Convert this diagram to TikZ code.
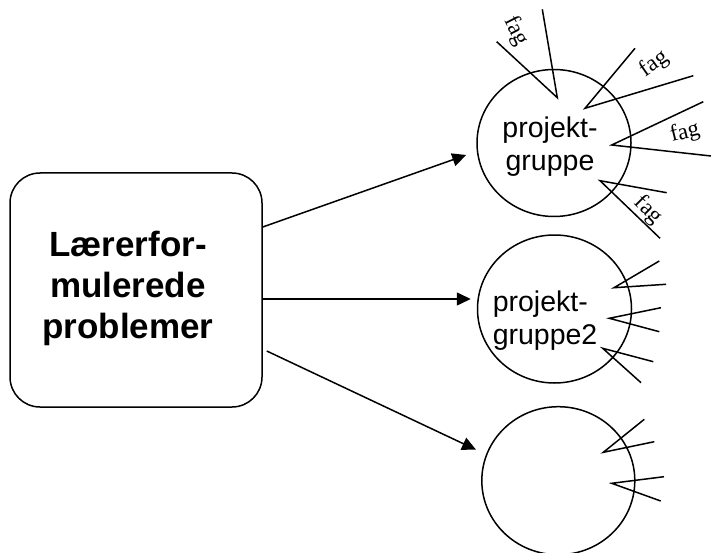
\documentclass[tikz,border=0pt]{standalone}
\usepackage{fontspec}
\setmainfont{Liberation Serif}
\setsansfont{Liberation Sans}
\usetikzlibrary{arrows.meta,shapes.geometric}
\begin{document}
\begin{tikzpicture}[x=1pt,y=-1pt,line width=1.5pt,
  grp/.style={ellipse, draw, inner sep=0pt, minimum width=154pt, minimum height=147pt},
  conn/.style={-{Triangle[length=14pt,width=13pt]}},
  spike/.style={line join=miter},
  fag/.style={font=\fontsize{23}{26}\selectfont, inner sep=0pt},
  boxtext/.style={font=\fontsize{35}{41}\selectfont\sffamily\bfseries, align=center, inner sep=0pt},
  grptext/.style={font=\fontsize{28.5}{33}\selectfont\sffamily, inner sep=0pt}]
\useasboundingbox (0,0) rectangle (711,553);
% main box
\node[draw, rounded corners=30pt, inner sep=0pt, minimum width=252pt, minimum height=234pt] (box) at (136,290) {};
\node[boxtext] (boxtxt) at (128,288) {Lærerfor-\\mulerede\\problemer};
% groups
\node[grp] (c1) at (554,143) {};
\node[grp, minimum height=148pt] (c2) at (554.5,309) {};
\node[grp, minimum width=153pt, minimum height=148pt] (c3) at (558.3,480.7) {};
\node[grptext, align=center] (t1) at (550,146.6) {projekt-\\gruppe};
\node[grptext, align=left, anchor=west] (t2) at (492,321) {projekt-\\gruppe2};
% arrows
\draw[conn] ([yshift=63pt]box.east) -- ([xshift=-10pt,yshift=-12pt]c1.west);
\draw[conn] ([yshift=-9pt]box.east) -- ([xshift=-6pt,yshift=10pt]c2.west);
\draw[conn] ([xshift=4pt,yshift=-61pt]box.east) -- ([xshift=-5pt,yshift=31pt]c3.west);
% spikes of group 1
\draw[spike] (496.7,41.7) -- (557.3,97.7) -- (542.3,9.3);
\draw[spike] (635,48.3) -- (585,108.3) -- (693.3,75.7);
\draw[spike] (703.3,101.7) -- (611.7,145) -- (711,156);
\draw[spike] (666.7,192.7) -- (600,180.7) -- (660,238.3);
\node[fag, rotate=-63] (f1) at (516,31) {fag};
\node[fag, rotate=35] (f2) at (654,64) {fag};
\node[fag, rotate=14] (f3) at (685,133) {fag};
\node[fag, rotate=-45] (f4) at (648,210) {fag};
% spikes of group 2
\draw[spike] (659.3,261) -- (614,287.7) -- (666,284.3);
\draw[spike] (661,307.7) -- (609.3,318.3) -- (659.3,331.7);
\draw[spike] (653.3,361.7) -- (602.7,348.3) -- (641,382.7);
% spikes of group 3
\draw[spike] (644.3,419.3) -- (603.3,452.3) -- (654.3,441.7);
\draw[spike] (664,476.7) -- (611.7,483.3) -- (660.7,501);
\end{tikzpicture}
\end{document}
